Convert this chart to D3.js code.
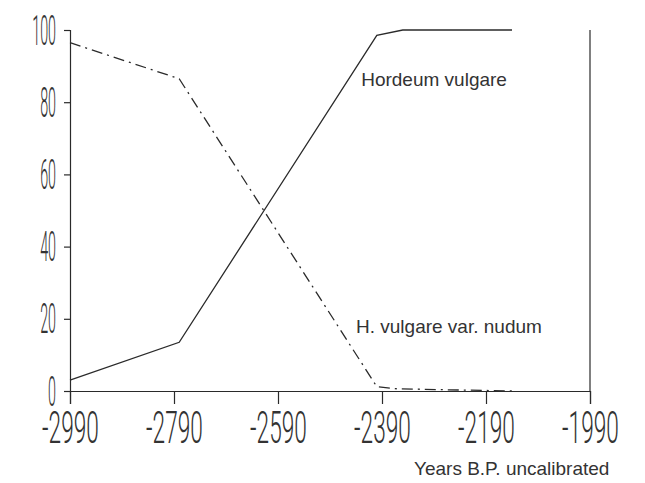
<!DOCTYPE html>
<html>
<head>
<meta charset="utf-8">
<script src="https://cdn.jsdelivr.net/npm/d3@7"></script>
<style>
  body { margin: 0; background: #fff; }
  .tick line, .domain { stroke: #2a2a2a; stroke-width: 1.2; }
  .num { font-family: "Roboto", "DejaVu Sans", sans-serif; font-weight: 300; fill: #333; }
  .lab { font-family: "Liberation Sans", Arial, sans-serif; fill: #333; }
</style>
</head>
<body>
<div id="chart"></div>
<script>
// years B.P. (uncalibrated) and percentages
var vulgareYears = [-2990, -2780, -2400, -2350, -2140];
var vulgareValues = [3, 13.5, 98.5, 100, 100];

var nudumYears = [-2990, -2780, -2400, -2360, -2140];
var nudumValues = [96.5, 86.5, 1.2, 0.6, 0];

var xTicks = [-2990, -2790, -2590, -2390, -2190, -1990];
var yTicks = [0, 20, 40, 60, 80, 100];

var svgWidth = 645;
var svgHeight = 483;

var margin = { top: 30, right: 55, bottom: 92, left: 70 };
var chartWidth = svgWidth - margin.left - margin.right;
var chartHeight = svgHeight - margin.top - margin.bottom;

var svg = d3.select("#chart")
  .append("svg")
  .attr("width", svgWidth)
  .attr("height", svgHeight);

var chart = svg.append("g")
  .attr("transform", `translate(${margin.left}, ${margin.top})`);

var x = d3.scaleLinear().domain([-2990, -1990]).range([0, chartWidth]);
var y = d3.scaleLinear().domain([0, 100]).range([chartHeight, 0]);

// x axis, labels drawn tall and narrow like the plotter font
var xAxis = chart.append("g")
  .attr("transform", `translate(0, ${chartHeight})`)
  .call(d3.axisBottom(x).tickValues(xTicks).tickSizeOuter(0).tickSize(13).tickFormat(d => d));
xAxis.selectAll("text")
  .attr("class", "num")
  .attr("y", 0).attr("dy", 0)
  .attr("font-size", 22)
  .attr("text-anchor", "middle")
  .attr("transform", "translate(0, 52) scale(1.03, 2.0)");

var yAxis = chart.append("g")
  .call(d3.axisLeft(y).tickValues(yTicks).tickSizeOuter(0).tickSize(6).tickFormat(d => d));
yAxis.selectAll("text")
  .attr("class", "num")
  .attr("x", 0).attr("dy", 0)
  .attr("font-size", 22)
  .attr("text-anchor", "end")
  .attr("transform", "translate(-14, 14) scale(0.65, 1.9)");

// right frame line
chart.append("line")
  .attr("x1", x(-1990)).attr("x2", x(-1990))
  .attr("y1", y(100)).attr("y2", y(0))
  .attr("stroke", "#2a2a2a").attr("stroke-width", 1.2);

var line = d3.line()
  .x(d => x(d[0]))
  .y(d => y(d[1]));

chart.append("path")
  .datum(d3.zip(vulgareYears, vulgareValues))
  .attr("d", line)
  .attr("fill", "none")
  .attr("stroke", "#2a2a2a")
  .attr("stroke-width", 1.3);

chart.append("path")
  .datum(d3.zip(nudumYears, nudumValues))
  .attr("d", line)
  .attr("fill", "none")
  .attr("stroke", "#2a2a2a")
  .attr("stroke-width", 1.3)
  .attr("stroke-dasharray", "11,5,2,5");

chart.append("text")
  .attr("class", "lab")
  .attr("x", x(-2430))
  .attr("y", y(84.5))
  .attr("font-size", 19)
  .text("Hordeum vulgare");

chart.append("text")
  .attr("class", "lab")
  .attr("x", x(-2440))
  .attr("y", y(16))
  .attr("font-size", 19)
  .text("H. vulgare var. nudum");

svg.append("text")
  .attr("class", "lab")
  .attr("x", 414)
  .attr("y", 475)
  .attr("font-size", 19)
  .text("Years B.P. uncalibrated");
</script>
</body>
</html>
